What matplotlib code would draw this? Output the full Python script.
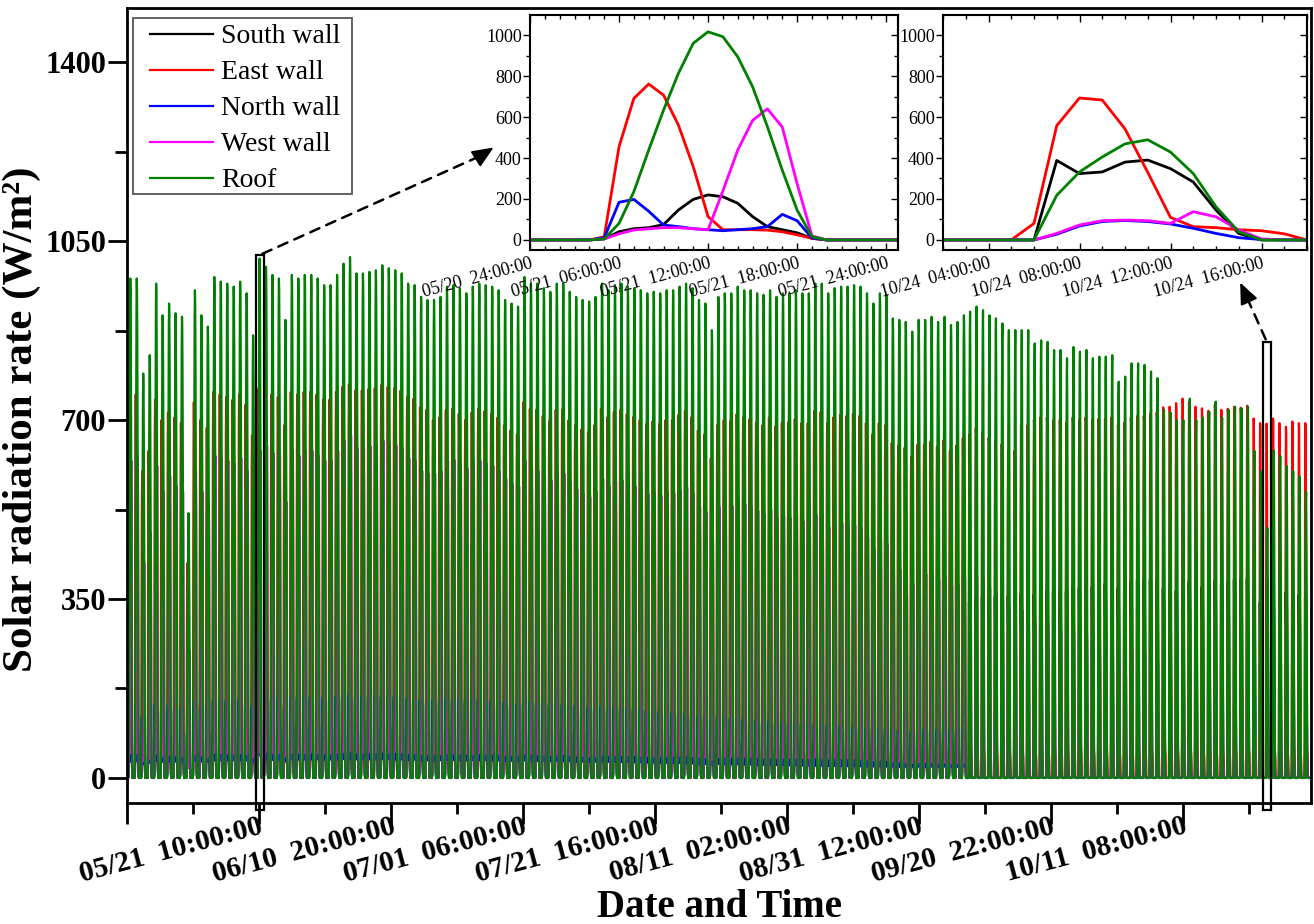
import numpy as np
import matplotlib.pyplot as plt
from matplotlib.ticker import MultipleLocator, FixedLocator
from matplotlib.patches import Rectangle

plt.rcParams['font.family'] = 'Liberation Serif'

# daily peak values (W/m2), one per day 05/01 ... 10/30
roof_peak = [
    977, 977, 791, 827, 967, 905, 928, 909, 902, 518,
    954, 905, 883, 980, 971, 967, 961, 971, 948, 866,
    1016, 1000, 984, 977, 896, 984, 977, 984, 984, 977,
    964, 964, 984, 1006, 1019, 987, 987, 990, 993, 1003,
    997, 993, 987, 967, 964, 941, 935,
    935, 941, 961, 964, 958, 948, 961, 967, 964, 961,
    954, 935, 928, 922, 980, 967, 967, 958, 951, 967,
    967, 951, 941, 935, 932, 941, 967, 954, 964, 967,
    961, 958, 954, 948, 951, 948, 954, 954, 961, 967,
    958, 935, 928, 876, 941,
    948, 948, 961, 954, 954, 948, 945, 954, 941, 948,
    948, 954, 948, 948, 967, 967, 948, 958, 961, 961,
    964, 961, 948, 928, 948, 945, 899, 896, 892, 873,
    896, 896, 902, 892, 902, 886, 892, 905, 912, 922,
    915, 905, 899, 889, 876, 876,
    876, 876, 850, 856, 853, 837, 837, 821, 843, 834,
    837, 821, 824, 824, 827, 775, 785, 811, 811, 808,
    795, 782,
    720, 715, 700, 700, 742, 700, 705, 716, 736, 705,
    720, 726, 723, 726, 640, 600, 489, 640, 630, 610,
    600, 590, 560]

east_peak = [
    745, 750, 600, 640, 740, 700, 715, 705, 695, 420,
    735, 700, 685, 755, 750, 745, 740, 750, 730, 670,
    761, 755, 750, 745, 690, 755, 750, 755, 755, 750,
    740, 740, 755, 765, 770, 758, 758, 760, 762, 768,
    765, 762, 758, 745, 742, 725, 720,
    700, 705, 720, 722, 712, 700, 715, 722, 718, 712,
    705, 690, 680, 672, 735, 722, 720, 708, 698, 720,
    720, 700, 690, 682, 676, 690, 722, 705, 716, 720,
    712, 706, 700, 692, 698, 692, 700, 700, 710, 718,
    705, 680, 672, 625, 690,
    700, 698, 712, 705, 702, 695, 690, 705, 688, 695,
    696, 702, 694, 694, 718, 716, 694, 706, 710, 708,
    712, 708, 694, 672, 694, 690, 655, 650, 646, 628,
    652, 652, 658, 648, 660, 640, 650, 665, 672, 684,
    676, 665, 660, 652, 640, 640,
    690, 690, 700, 705, 705, 700, 700, 695, 705, 700,
    705, 700, 702, 702, 705, 690, 695, 705, 708, 708,
    712, 715,
    725, 726, 733, 742, 735, 726, 723, 718, 730, 720,
    722, 726, 724, 728, 703, 694, 693, 703, 694, 687,
    697, 694, 694]

west_peak = [
    620, 630, 420, 480, 610, 560, 590, 570, 560, 250,
    600, 560, 540, 630, 625, 620, 615, 625, 600, 520,
    640, 650, 635, 630, 540, 640, 630, 640, 640, 630,
    620, 620, 640, 660, 670, 645, 645, 648, 650, 660,
    655, 650, 645, 625, 620, 600, 595,
    595, 600, 620, 622, 615, 605, 615, 620, 615, 610,
    600, 585, 575, 570, 620, 605, 600, 590, 582, 598,
    595, 578, 565, 555, 550, 560, 585, 570, 580, 582,
    575, 570, 565, 555, 558, 552, 558, 556, 562, 568,
    556, 530, 520, 460, 530,
    535, 532, 545, 535, 532, 522, 515, 525, 508, 512,
    508, 512, 502, 498, 515, 512, 490, 498, 498, 495,
    494, 488, 470, 448, 466, 458, 415, 408, 400, 380,
    402, 398, 400, 388, 392, 375, 378, 388, 390, 395,
    385, 372, 362, 348, 335, 330,
    328, 325, 305, 308, 303, 290, 288, 275, 290, 282,
    282, 270, 270, 268, 268, 230, 235, 250, 248, 244,
    235, 226,
    200, 196, 188, 186, 200, 182, 182, 184, 192, 178,
    182, 182, 178, 178, 160, 148, 138, 150, 145, 138,
    135, 130, 125]

south_peak = [
    235, 235, 190, 200, 232, 218, 224, 220, 216, 130,
    228, 216, 210, 228, 225, 222, 220, 222, 218, 200,
    220, 218, 215, 214, 196, 214, 212, 212, 212, 210,
    208, 208, 212, 216, 218, 212, 212, 212, 212, 214,
    213, 212, 211, 208, 208, 204, 203,
    203, 205, 210, 211, 210, 208, 212, 214, 214, 214,
    213, 210, 209, 208, 222, 220, 221, 220, 219, 224,
    225, 222, 221, 221, 221, 224, 231, 229, 232, 234,
    234, 234, 234, 234, 236, 236, 239, 240, 243, 246,
    245, 242, 242, 230, 250,
    254, 255, 261, 260, 262, 262, 264, 268, 266, 270,
    272, 276, 276, 279, 287, 290, 288, 294, 298, 300,
    304, 306, 304, 300, 310, 312, 302, 304, 306, 302,
    312, 316, 322, 322, 328, 326, 332, 340, 346, 352,
    354, 354, 356, 358, 358, 360,
    362, 364, 360, 366, 368, 366, 368, 366, 374, 374,
    378, 376, 380, 382, 386, 372, 376, 386, 388, 390,
    388, 388,
    372, 372, 368, 370, 385, 372, 375, 380, 388, 380,
    386, 390, 390, 392, 360, 345, 390, 372, 370, 365,
    362, 360, 352]

north_peak = [
    140, 142, 120, 128, 145, 138, 142, 140, 138, 90,
    148, 142, 138, 152, 152, 152, 152, 154, 150, 140,
    198, 157, 156, 156, 142, 158, 158, 159, 159, 159,
    158, 158, 160, 162, 163, 160, 160, 160, 160, 161,
    160, 159, 158, 156, 156, 153, 152,
    152, 153, 155, 155, 154, 152, 153, 154, 153, 152,
    150, 148, 146, 145, 150, 148, 147, 146, 144, 146,
    145, 143, 141, 140, 139, 139, 140, 138, 138, 137,
    136, 135, 134, 132, 131, 130, 129, 128, 127, 126,
    124, 121, 120, 114, 120,
    118, 117, 117, 116, 115, 113, 112, 111, 110, 109,
    108, 107, 106, 105, 105, 104, 103, 102, 101, 100,
    100, 99, 98, 97, 97, 96, 94, 94, 93, 92,
    95, 95, 96, 95, 96, 95, 95, 96, 97, 98,
    97, 96, 96, 95, 94, 94,
    94, 94, 93, 94, 94, 93, 93, 92, 94, 93,
    94, 93, 93, 93, 94, 90, 91, 93, 93, 93,
    93, 93,
    92, 92, 91, 91, 93, 91, 91, 92, 93, 91,
    92, 92, 92, 93, 88, 86, 95, 88, 87, 86,
    85, 84, 82]

# hourly profiles (hour 0..23): 05/21 and 10/24
south_may = [0, 0, 0, 0, 0, 5, 40, 55, 60, 75, 146, 198, 220, 211, 179, 114, 65, 50, 35, 8, 0, 0, 0, 0]
east_may = [0, 0, 0, 0, 0, 15, 455, 691, 761, 707, 561, 358, 114, 50, 50, 50, 48, 40, 25, 8, 0, 0, 0, 0]
north_may = [0, 0, 0, 0, 0, 10, 184, 198, 140, 73, 65, 55, 50, 45, 50, 55, 65, 125, 94, 10, 0, 0, 0, 0]
west_may = [0, 0, 0, 0, 0, 5, 30, 49, 55, 60, 60, 55, 50, 240, 440, 585, 642, 553, 276, 20, 0, 0, 0, 0]
roof_may = [0, 0, 0, 0, 0, 5, 81, 236, 439, 634, 813, 960, 1016, 992, 894, 748, 553, 341, 146, 16, 0, 0, 0, 0]

south_oct = [0, 0, 0, 0, 0, 0, 0, 388, 324, 332, 380, 390, 348, 283, 146, 32, 0, 0, 0, 0, 0, 0, 0, 0]
east_oct = [0, 0, 0, 0, 0, 0, 81, 558, 693, 683, 542, 330, 110, 65, 60, 50, 45, 30, 0, 0, 0, 0, 0, 0]
north_oct = [0, 0, 0, 0, 0, 0, 0, 28, 68, 90, 95, 90, 78, 57, 32, 11, 2, 0, 0, 0, 0, 0, 0, 0]
west_oct = [0, 0, 0, 0, 0, 0, 0, 32, 73, 94, 97, 94, 81, 138, 113, 49, 5, 0, 0, 0, 0, 0, 0, 0]
roof_oct = [0, 0, 0, 0, 0, 0, 0, 218, 332, 405, 469, 489, 429, 324, 162, 40, 0, 0, 0, 0, 0, 0, 0, 0]

series_names = ['South wall', 'East wall', 'North wall', 'West wall', 'Roof']
series_colors = ['black', 'red', 'blue', 'magenta', '#008000']

main_tick_labels = ['', '05/21  10:00:00', '06/10  20:00:00', '07/01  06:00:00',
                    '07/21  16:00:00', '08/11  02:00:00', '08/31  12:00:00',
                    '09/20  22:00:00', '10/11  08:00:00']
inset1_tick_labels = ['05/20  24:00:00', '05/21  06:00:00', '05/21  12:00:00',
                      '05/21  18:00:00', '05/21  24:00:00']
inset2_tick_labels = ['10/24  04:00:00', '10/24  08:00:00', '10/24  12:00:00',
                      '10/24  16:00:00']


def build_series(peaks, prof_may, prof_oct, switch_day=130):
    out = []
    for d, p in enumerate(peaks):
        prof = np.array(prof_may if d < switch_day else prof_oct, dtype=float)
        out.append(p * prof / prof.max())
    return np.concatenate(out)


all_series = [
    build_series(south_peak, south_may, south_oct),
    build_series(east_peak, east_may, east_oct),
    build_series(north_peak, north_may, north_oct),
    build_series(west_peak, west_may, west_oct),
    build_series(roof_peak, roof_may, roof_oct),
]
t = np.arange(len(roof_peak) * 24)  # hours since 05/01 00:00

day1 = 20 * 24    # 05/21 00:00
day2 = 176 * 24   # 10/24 00:00

fig = plt.figure(figsize=(13.14, 9.24), dpi=100)
ax = fig.add_axes([0.0967, 0.131, 0.901, 0.8603])

for y, name, c in zip(all_series, series_names, series_colors):
    ax.plot(t, y, color=c, lw=1.6, label=name)

ax.set_xlim(0, 4397)
ax.set_ylim(-49, 1506)
ax.yaxis.set_major_locator(FixedLocator([0, 350, 700, 1050, 1400]))
ax.yaxis.set_minor_locator(FixedLocator([175, 525, 875, 1225]))
ax.xaxis.set_major_locator(FixedLocator([490 * k for k in range(9)]))
ax.xaxis.set_minor_locator(FixedLocator([245 + 490 * k for k in range(9)]))
ax.set_xticklabels(main_tick_labels, rotation=15, ha='right', va='top',
                   rotation_mode='anchor', fontsize=21, fontweight='bold')
for lab in ax.get_yticklabels():
    lab.set_fontsize(22)
    lab.set_fontweight('bold')
ax.tick_params(axis='y', which='major', length=14, width=2, pad=1)
ax.tick_params(axis='y', which='minor', length=9, width=2)
ax.tick_params(axis='x', which='major', length=15, width=2, pad=-8)
ax.tick_params(axis='x', which='minor', length=8, width=2)
for s in ax.spines.values():
    s.set_linewidth(2)

ax.set_ylabel('Solar radiation rate (W/m²)', fontsize=31, fontweight='bold')
ax.yaxis.set_label_coords(-0.073, 0.483)
ax.set_xlabel('Date and Time', fontsize=28, fontweight='bold')
ax.xaxis.set_label_coords(0.5, -0.108)

# legend: entries plus a plain frame
leg = ax.legend(loc='upper left', bbox_to_anchor=(150 / 1314, 1 - 24 / 924),
                bbox_transform=fig.transFigure, borderaxespad=0, borderpad=0,
                fontsize=20, handlelength=2.27, handletextpad=0.3,
                labelspacing=0.38, frameon=False)
for ln in leg.get_lines():
    ln.set_linewidth(1.6)
fig.add_artist(Rectangle((133 / 1314, 1 - 194 / 924), 219 / 1314, 176 / 924,
                         transform=fig.transFigure, fill=False, ec='#555555', lw=1.3))

# zoom boxes and arrows
ax.add_patch(Rectangle((day1 - 2, -62), 30, 1085, fill=False, ec='black', lw=1.6, clip_on=False, zorder=5))
ax.add_patch(Rectangle((day2 - 6, -62), 30, 915, fill=False, ec='black', lw=1.6, clip_on=False, zorder=5))
ax.annotate('', xy=(478 / 1314, 1 - 157 / 924), xycoords='figure fraction',
            xytext=(day1 + 13, 1023), textcoords='data',
            arrowprops=dict(arrowstyle='-', ls=(0, (4, 3)), lw=1.8, color='black'))
ax.annotate('', xy=(496 / 1314, 1 - 146 / 924), xycoords='figure fraction',
            xytext=(474 / 1314, 1 - 160 / 924), textcoords='figure fraction',
            arrowprops=dict(arrowstyle='-|>,head_length=1.3,head_width=0.55', lw=1.5, color='black'))
ax.annotate('', xy=(1248 / 1314, 1 - 300 / 924), xycoords='figure fraction',
            xytext=(day2 + 9, 853), textcoords='data',
            arrowprops=dict(arrowstyle='-', ls=(0, (4, 3)), lw=1.8, color='black'))
ax.annotate('', xy=(1239 / 1314, 1 - 280 / 924), xycoords='figure fraction',
            xytext=(1250 / 1314, 1 - 304 / 924), textcoords='figure fraction',
            arrowprops=dict(arrowstyle='-|>,head_length=1.3,head_width=0.55', lw=1.5, color='black'))


def draw_inset(rect, x0, xlim, ticks, labels):
    ia = fig.add_axes(rect)
    for y, c in zip(all_series, series_colors):
        ia.plot(t - x0, y, color=c, lw=2.0)
    ia.set_xlim(*xlim)
    ia.set_ylim(-49, 1098)
    ia.set_xticks(ticks)
    ia.set_xticklabels(labels, rotation=15, ha='right', va='top', rotation_mode='anchor', fontsize=13)
    ia.xaxis.set_minor_locator(MultipleLocator(1))
    ia.yaxis.set_minor_locator(MultipleLocator(100))
    ia.set_yticks([0, 200, 400, 600, 800, 1000])
    ia.tick_params(axis='y', labelsize=13, pad=1)
    ia.tick_params(which='both', top=True)
    ia.tick_params(which='major', length=5, width=1)
    ia.tick_params(which='minor', length=3, width=1)
    ia.tick_params(axis='x', which='both', direction='in')
    ia.tick_params(axis='y', which='both', direction='out')
    # inward ticks on the right side
    ry = ia.secondary_yaxis('right')
    ry.set_yticks([0, 200, 400, 600, 800, 1000])
    ry.yaxis.set_minor_locator(MultipleLocator(100))
    ry.tick_params(which='both', direction='in', labelright=False, width=1)
    ry.tick_params(which='major', length=5)
    ry.tick_params(which='minor', length=3)
    for s in ia.spines.values():
        s.set_linewidth(1.5)
    ry.spines['right'].set_linewidth(1.5)
    return ia


draw_inset([530 / 1314, 1 - 250 / 924, 368 / 1314, 235 / 924], day1, (0, 24.8),
           [0, 6, 12, 18, 24], inset1_tick_labels)
draw_inset([943 / 1314, 1 - 250 / 924, 364 / 1314, 235 / 924], day2, (2, 18),
           [4, 8, 12, 16], inset2_tick_labels)

fig.savefig('out.png', dpi=100)
